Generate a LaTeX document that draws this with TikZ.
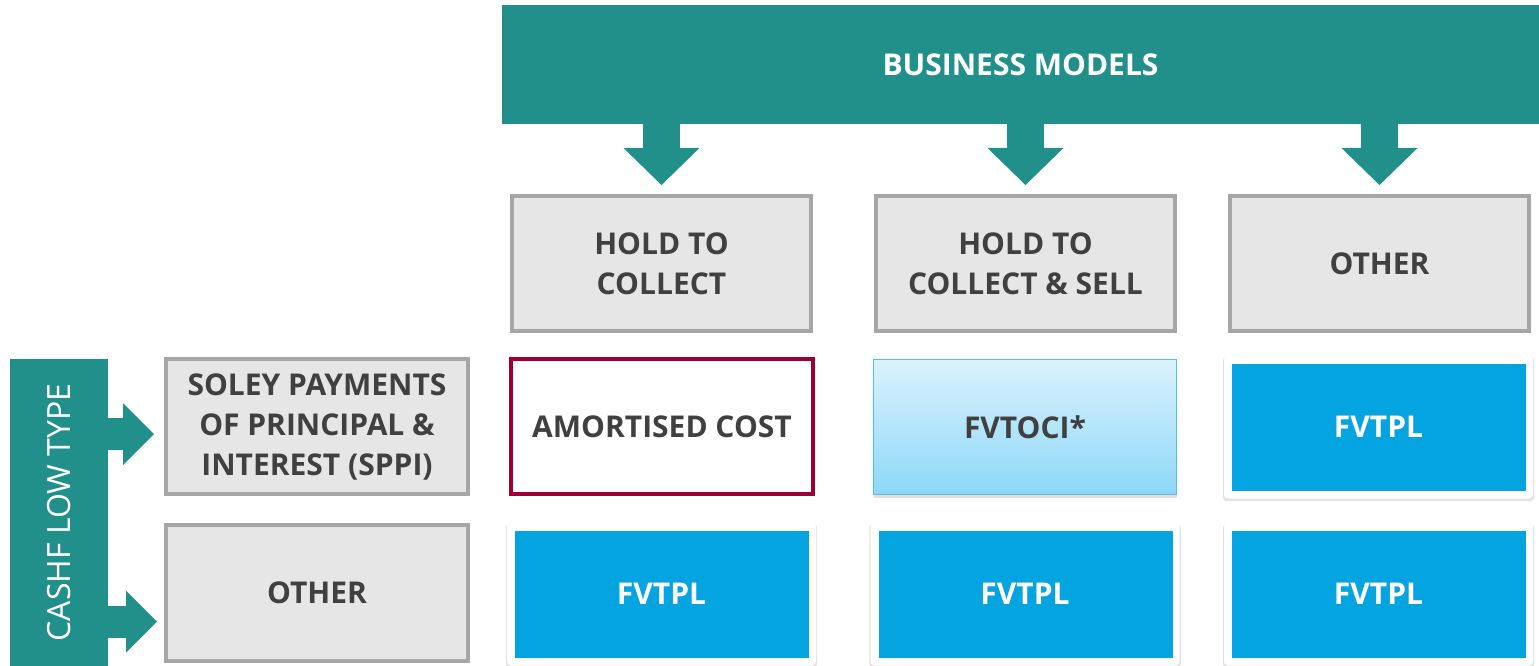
\documentclass[tikz,border=0pt]{standalone}
\usepackage{fontspec}
\setmainfont{Open Sans}
\usepackage{tikz}
\usetikzlibrary{positioning, arrows.meta, shadows}

\definecolor{bmteal}{HTML}{21908A}
\definecolor{boxfill}{HTML}{E6E6E6}
\definecolor{boxline}{HTML}{A6A6A6}
\definecolor{txtgray}{HTML}{404040}
\definecolor{costred}{HTML}{9B0033}
\definecolor{fvblue}{HTML}{04A4E0}
\definecolor{ocitop}{HTML}{DBF2FC}
\definecolor{ocibot}{HTML}{8CD8F8}
\definecolor{ociline}{HTML}{55BFEA}

\begin{document}
\begin{tikzpicture}[
      x=1pt, y=-1pt,
      font=\fontsize{30}{40}\selectfont\bfseries,
      band/.style={fill=bmteal, text=white, inner sep=0pt},
      model/.style={draw=boxline, line width=4pt, fill=boxfill, text=txtgray, align=center,
                    minimum width=299pt, minimum height=135pt, inner sep=0pt},
      cost/.style={draw=costred, line width=4pt, fill=white, text=txtgray,
                   minimum width=302pt, minimum height=135pt},
      oci/.style={draw=ociline, line width=1pt, top color=ocitop, bottom color=ocibot, text=txtgray,
                  minimum width=303pt, minimum height=135pt,
                  drop shadow={opacity=0.25, shadow xshift=0pt, shadow yshift=-3pt}},
      fvtpl/.style={fill=white, rounded corners=4pt, text=white,
                    minimum width=309pt, minimum height=143pt,
                    drop shadow={opacity=0.22, shadow xshift=0pt, shadow yshift=-2pt, shadow scale=1.008},
                    path picture={\fill[fvblue, sharp corners]
                      ([shift={(8pt,8pt)}]path picture bounding box.south west)
                      rectangle ([shift={(-7pt,-8pt)}]path picture bounding box.north east);}},
      down/.style={draw=bmteal, line width=37pt, -{Triangle[length=37pt, width=76pt, line width=0pt]}},
      side/.style={draw=bmteal, line width=32pt, -{Triangle[length=31pt, width=62pt, line width=0pt]}},
    ]
    \useasboundingbox (0,0) rectangle (1539,666);
    % ── business models ──
    \node[band, minimum width=1037pt, minimum height=119pt] (bm) at (1020.5,64.5) {BUSINESS MODELS};
    \node[model] (hc)  at (661.5,263.5)  {HOLD TO\\COLLECT};
    \node[model] (hcs) at (1025.5,263.5) {HOLD TO\\COLLECT \& SELL};
    \node[model] (bmo) at (1379.5,263.5) {OTHER};
    \foreach \m in {hc, hcs, bmo} \draw[down, shorten >=9pt] (bm.south -| \m.north) -- (\m.north);
    % ── cash flow type ──
    \node[band, minimum width=98pt, minimum height=307pt] (cf) at (59,512.5)
      {\rotatebox{90}{\fontsize{32}{40}\selectfont\mdseries CASHF LOW TYPE}};
    \node[model, minimum width=302pt] (sppi) at (317,426.5) {SOLEY PAYMENTS\\OF PRINCIPAL \&\\INTEREST (SPPI)};
    \node[model, minimum width=302pt, minimum height=136pt] (cfo) at (317,593) {OTHER};
    \coordinate (a1) at ([yshift=-7.5pt]sppi.west);
    \coordinate (a2) at ([yshift=-28.5pt]cfo.west);
    \draw[side, shorten >=10pt] (a1 -| cf.east) -- (a1);
    \draw[side, shorten >=7pt]  (a2 -| cf.east) -- (a2);
    % ── measurement ──
    \node[cost] (ac)  at (662,426.5)  {AMORTISED COST};
    \node[oci]  (fvo) at (1025,427)   {FVTOCI*};
    \foreach \x/\y/\n in {1378.5/427/f13, 661.5/594/f21, 1025/594/f22, 1378.5/594/f23}
      \node[fvtpl] (\n) at (\x,\y) {FVTPL};
  \end{tikzpicture}
\end{document}
